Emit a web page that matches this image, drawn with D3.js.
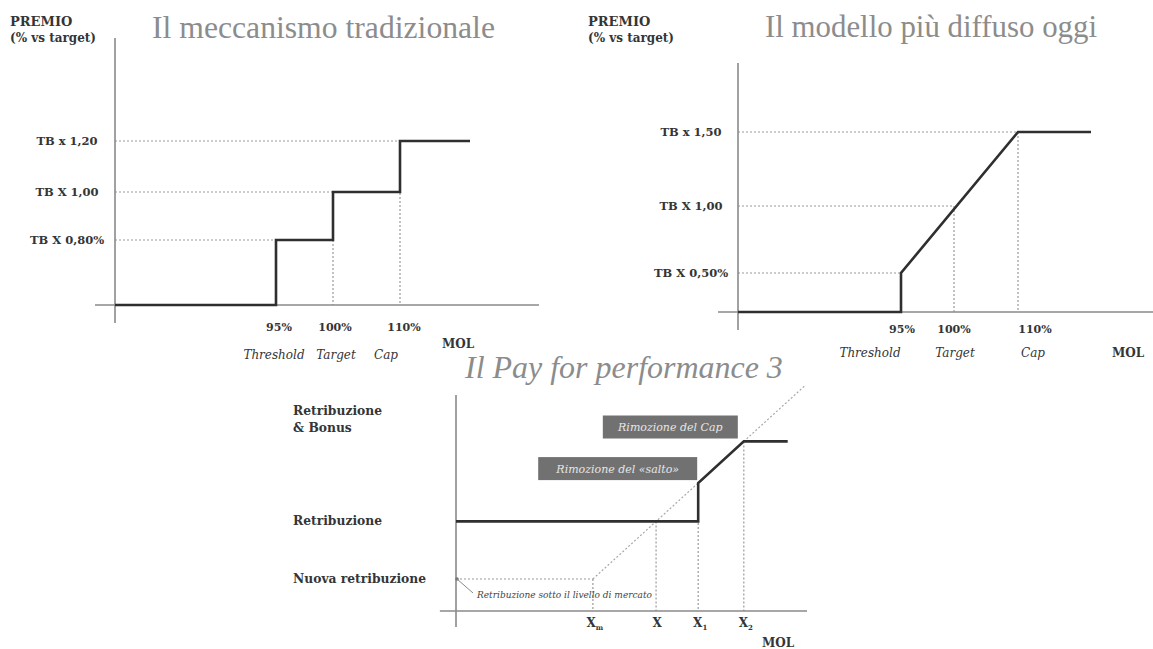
<!DOCTYPE html>
<html><head><meta charset="utf-8">
<script src="https://cdn.jsdelivr.net/npm/d3@7"></script>
<style>
html,body{margin:0;padding:0;background:#fff;}
svg{display:block;}
text{font-family:"Liberation Serif","DejaVu Serif",serif;}
text.s{font-family:"DejaVu Serif","Liberation Serif",serif;}
</style></head>
<body>
<script>
// ---------- DATA ----------
// Chart 1: Il meccanismo tradizionale
const c1Mol    = [0, 95, 95, 100, 100, 110, 110, 120];
const c1Premio = [0, 0, 0.8, 0.8, 1.0, 1.0, 1.2, 1.2];
const c1Levels = [0.8, 1.0, 1.2];
const c1LevelLabels = ["TB X 0,80%", "TB X 1,00", "TB x 1,20"];
const c1LevelMol = [95, 100, 110];
// Chart 2: Il modello più diffuso oggi
const c2Mol    = [0, 95, 95, 110, 120];
const c2Premio = [0, 0, 0.5, 1.5, 1.5];
const c2Levels = [0.5, 1.0, 1.5];
const c2LevelLabels = ["TB X 0,50%", "TB X 1,00", "TB x 1,50"];
const c2LevelMol = [95, 100, 110];
// shared MOL ticks
const molTicks = [95, 100, 110];
const molTickLabels = ["95%", "100%", "110%"];
const molTickNames = ["Threshold", "Target", "Cap"];
// Chart 3: Il Pay for performance 3
const c3TickMol = [39, 57, 69, 82];
const c3TickMain = ["X", "X", "X", "X"];
const c3TickSub = ["m", "", "1", "2"];
const c3PayMol = [0, 69, 69, 82, 94.5];
const c3PayVal = [28, 28, 40, 53, 53];
const c3DiagMol = [39, 99.5];
const c3DiagVal = [10, 70.5];
const c3Nuova = 10, c3Retrib = 28;
const c3GuideMol = [39, 57, 69, 82];
const c3GuideVal = [10, 28, 40, 53];
const c3Boxes = ["Rimozione del Cap", "Rimozione del «salto»"];

// ---------- DRAW ----------
const W = 1153, H = 649;
const svg = d3.select("body").append("svg").attr("width", W).attr("height", H);
const axisCol = "#8a8a8a", lineCol = "#2f2f2f", dotCol = "#9a9a9a", titleCol = "#8c8c8c", txt = "#353535";

function fitWidth(sel, w) {
  const n = sel.node();
  const fs = parseFloat(sel.attr("font-size"));
  const cur = n.getComputedTextLength();
  sel.attr("font-size", (fs * w / cur).toFixed(2));
}

function stepChart(o) {
  const g = svg.append("g");
  const x = d3.scaleLinear().domain([0, 95, 100, 110, 120]).range(o.xr);
  const y = d3.scaleLinear().domain(o.yd).range(o.yr);
  const pts = o.mol.map((m, i) => [m, o.premio[i]]);
  o.levels.forEach((lv, i) => {
    g.append("line").attr("x1", x(0)).attr("x2", x(o.levelMol[i]))
      .attr("y1", y(lv)).attr("y2", y(lv))
      .attr("stroke", dotCol).attr("stroke-width", 1.2).attr("stroke-dasharray", "2,2");
  });
  o.vGuides.forEach((m, i) => {
    g.append("line").attr("x1", x(m)).attr("x2", x(m))
      .attr("y1", y(o.vGuideVal[i])).attr("y2", y(0))
      .attr("stroke", dotCol).attr("stroke-width", 1.2).attr("stroke-dasharray", "2,2");
  });
  g.append("line").attr("x1", o.xAxisFrom).attr("x2", o.xAxisTo).attr("y1", y(0)).attr("y2", y(0))
    .attr("stroke", axisCol).attr("stroke-width", 1.6);
  g.append("line").attr("x1", x(0)).attr("x2", x(0)).attr("y1", o.yAxisTop).attr("y2", o.yAxisBot)
    .attr("stroke", axisCol).attr("stroke-width", 1.6);
  g.append("path").attr("d", d3.line().x(d => x(d[0])).y(d => y(d[1]))(pts))
    .attr("fill", "none").attr("stroke", lineCol).attr("stroke-width", 2.6).attr("stroke-linejoin", "miter");
  o.levels.forEach((lv, i) => {
    g.append("text").attr("class", "s").attr("x", o.yLabelX).attr("y", y(lv) + 4).attr("text-anchor", "middle")
      .attr("font-size", 11.5).attr("font-weight", "bold").attr("fill", txt).text(o.levelLabels[i]);
  });
  molTicks.forEach((m, i) => {
    g.append("text").attr("class", "s").attr("x", x(m) + o.tickDx[i]).attr("y", o.tickY).attr("text-anchor", "middle")
      .attr("font-size", 11).attr("font-weight", "bold").attr("fill", txt).text(molTickLabels[i]);
    g.append("text").attr("class", "s").attr("x", x(m) + o.nameDx[i]).attr("y", o.nameY).attr("text-anchor", "middle")
      .attr("font-size", 12).attr("font-style", "italic").attr("fill", txt).text(molTickNames[i]);
  });
  g.append("text").attr("class", "s").attr("x", o.molX).attr("y", o.molY).attr("text-anchor", "middle")
    .attr("font-size", 12).attr("font-weight", "bold").attr("fill", txt).text("MOL");
  g.append("text").attr("class", "s").attr("x", o.premX).attr("y", 26).attr("font-size", 13).attr("font-weight", "bold").attr("fill", txt).text("PREMIO");
  g.append("text").attr("class", "s").attr("x", o.premX).attr("y", 42).attr("font-size", 12).attr("font-weight", "bold").attr("fill", txt).text("(% vs target)");
  const t = g.append("text").attr("x", o.titleX).attr("y", o.titleY).attr("font-size", 28)
    .attr("fill", titleCol).text(o.title);
  fitWidth(t, o.titleW);
}

stepChart({
  mol: c1Mol, premio: c1Premio, levels: c1Levels, levelLabels: c1LevelLabels, levelMol: c1LevelMol,
  vGuides: [100, 110], vGuideVal: [1.0, 1.2],
  xr: [115, 276, 333, 400, 470], yd: [0, 0.8, 1.0, 1.2], yr: [305, 240, 192, 141],
  xAxisFrom: 95, xAxisTo: 539, yAxisTop: 38, yAxisBot: 323, yLabelX: 67,
  tickY: 331, tickDx: [3, 2, 4], nameY: 359, nameDx: [-2, 3, -14], molX: 458, molY: 348,
  premX: 10, title: "Il meccanismo tradizionale", titleX: 152, titleY: 38, titleW: 343
});
stepChart({
  mol: c2Mol, premio: c2Premio, levels: c2Levels, levelLabels: c2LevelLabels, levelMol: c2LevelMol,
  vGuides: [100, 110], vGuideVal: [1.0, 1.5],
  xr: [738, 901, 954, 1018, 1091], yd: [0, 0.5, 1.0, 1.5], yr: [312, 273, 206, 132],
  xAxisFrom: 718, xAxisTo: 1153, yAxisTop: 63, yAxisBot: 330, yLabelX: 691,
  tickY: 333, tickDx: [1, 0, 17], nameY: 357, nameDx: [-31, 1, 15], molX: 1128, molY: 357,
  premX: 588, title: "Il modello più diffuso oggi", titleX: 765, titleY: 37, titleW: 332
});

// ---------- Chart 3 ----------
(function () {
  const g = svg.append("g");
  const x = d3.scaleLinear().domain([0, 100]).range([456, 807]);
  const y = d3.scaleLinear().domain([0, 100]).range([611, 291]);
  const dash = (x1, y1, x2, y2, col, w) => g.append("line").attr("x1", x1).attr("y1", y1).attr("x2", x2).attr("y2", y2)
    .attr("stroke", col).attr("stroke-width", w).attr("stroke-dasharray", "2,2");
  g.append("path").attr("d", d3.line().x(d => x(d)).y((d, i) => y(c3DiagVal[i]))(c3DiagMol))
    .attr("fill", "none").attr("stroke", "#a8a8a8").attr("stroke-width", 1.2).attr("stroke-dasharray", "2,2");
  dash(x(0), y(c3Nuova), x(c3GuideMol[0]), y(c3Nuova), dotCol, 1.2);
  c3GuideMol.forEach((m, i) => dash(x(m), y(c3GuideVal[i]), x(m), y(0), dotCol, 1.2));
  g.append("line").attr("x1", x(-4.6)).attr("x2", x(100)).attr("y1", y(0)).attr("y2", y(0)).attr("stroke", axisCol).attr("stroke-width", 1.6);
  g.append("line").attr("x1", x(0)).attr("x2", x(0)).attr("y1", y(67.5)).attr("y2", y(-5)).attr("stroke", axisCol).attr("stroke-width", 1.6);
  g.append("path").attr("d", d3.line().x(d => x(d)).y((d, i) => y(c3PayVal[i]))(c3PayMol))
    .attr("fill", "none").attr("stroke", lineCol).attr("stroke-width", 2.6);
  g.append("circle").attr("cx", x(0) + 1).attr("cy", y(c3Nuova)).attr("r", 1.8).attr("fill", "#777");
  g.append("line").attr("x1", x(0) + 1).attr("y1", y(c3Nuova)).attr("x2", x(0) + 17).attr("y2", y(c3Nuova) + 14)
    .attr("stroke", "#888").attr("stroke-width", 1);
  g.append("text").attr("class", "s").attr("x", x(0) + 21).attr("y", y(c3Nuova) + 19).attr("font-size", 9).attr("font-style", "italic")
    .attr("fill", "#444").text("Retribuzione sotto il livello di mercato");
  const boxDefs = [
    { label: c3Boxes[0], right: x(c3TickMol[3]) - 6, cy: y(57.5), w: 135, h: 23 },
    { label: c3Boxes[1], right: x(c3TickMol[2]) - 1, cy: y(44.5), w: 159, h: 23 }
  ];
  boxDefs.forEach(b => {
    g.append("rect").attr("x", b.right - b.w).attr("y", b.cy - b.h / 2).attr("width", b.w).attr("height", b.h).attr("fill", "#717171");
    g.append("text").attr("class", "s").attr("x", b.right - b.w / 2).attr("y", b.cy + 4).attr("text-anchor", "middle")
      .attr("font-size", 11).attr("font-style", "italic").attr("fill", "#e6e6e6").text(b.label);
  });
  c3TickMol.forEach((m, i) => {
    const t = g.append("text").attr("class", "s").attr("x", x(m) + (c3TickSub[i] ? 2 : 1)).attr("y", 627).attr("text-anchor", "middle")
      .attr("font-size", 12).attr("font-weight", "bold").attr("fill", txt);
    t.append("tspan").text(c3TickMain[i]);
    if (c3TickSub[i]) t.append("tspan").attr("dy", 3).attr("font-size", 7).text(c3TickSub[i]);
  });
  g.append("text").attr("class", "s").attr("x", 778).attr("y", 647).attr("text-anchor", "middle").attr("font-size", 12)
    .attr("font-weight", "bold").attr("fill", txt).text("MOL");
  const yl = (t, yy) => g.append("text").attr("class", "s").attr("x", 293).attr("y", yy).attr("font-size", 12.3).attr("font-weight", "bold").attr("fill", txt).text(t);
  yl("Retribuzione", 415);
  yl("& Bonus", 432);
  yl("Retribuzione", y(c3Retrib) + 4);
  yl("Nuova retribuzione", y(c3Nuova) + 4);
  const tt = g.append("text").attr("x", 465).attr("y", 378).attr("font-size", 28).attr("font-style", "italic")
    .attr("fill", titleCol).text("Il Pay for performance 3");
  fitWidth(tt, 318);
})();
</script>
</body></html>
